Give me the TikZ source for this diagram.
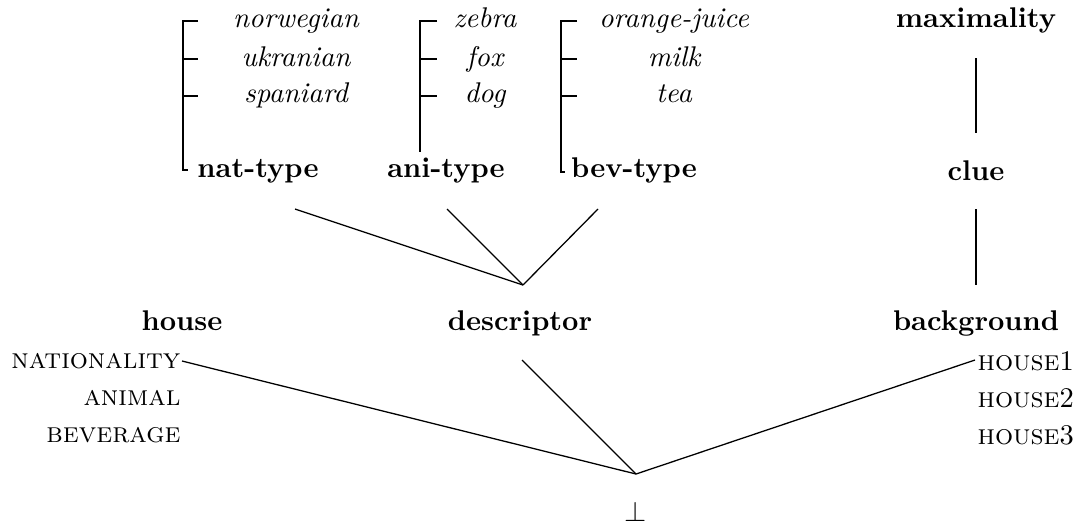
\documentclass[tikz,border=0pt]{standalone}
\begin{document}
\begin{tikzpicture}[x=0.3509pt,y=-0.3509pt,
  lbl/.style={inner sep=0pt,anchor=base},
  itm/.style={lbl,font=\itshape},
  typ/.style={lbl,font=\bfseries},
  brk/.style={line width=0.7pt},
  con/.style={line width=0.45pt},
  vcon/.style={line width=0.75pt}]
\useasboundingbox (0,0) rectangle (1078,527);
% type hierarchy items
\node[itm] (norw) at (296,27) {norwegian};
\node[itm] (ukr) at (296,66) {ukranian};
\node[itm] (spa) at (296,102) {spaniard};
\node[typ] (nat) at (258,177) {nat-type};
\node[itm] (zeb) at (485,27) {zebra};
\node[itm] (fox) at (485,66) {fox};
\node[itm] (dog) at (485,102) {dog};
\node[typ] (ani) at (446,177) {ani-type};
\node[itm] (oj) at (674,27) {orange-juice};
\node[itm] (milk) at (674,66) {milk};
\node[itm] (tea) at (674,102) {tea};
\node[typ] (bev) at (634,177) {bev-type};
% brackets
\draw[brk] (198,21) -- (183,21) -- (183,170) -- (188,170);
\draw[brk] (183,59) -- (198,59);
\draw[brk] (183,96) -- (198,96);
\draw[brk] (437,21) -- (420,21) -- (420,152);
\draw[brk] (420,59) -- (437,59);
\draw[brk] (420,96) -- (437,96);
\draw[brk] (577,21) -- (561,21) -- (561,172) -- (565,172);
\draw[brk] (561,59) -- (577,59);
\draw[brk] (561,96) -- (577,96);
% right column
\node[typ] (max) at (976,27) {maximality};
\node[typ] (clue) at (976,180) {clue};
\node[typ] (bg) at (976,330) {background};
\coordinate (maxb) at (976,58);
\coordinate (cluet) at (976,133);
\coordinate (clueb) at (976,209);
\coordinate (bgt) at (976,285);
\draw[vcon] (maxb) -- (cluet);
\draw[vcon] (clueb) -- (bgt);
% middle
\node[typ] (desc) at (520,330) {descriptor};
\node[typ] (house) at (182,330) {house};
\node[lbl,anchor=base east] (nat-f) at (181,368) {\textsc{nationality}};
\node[lbl,anchor=base east] (ani-f) at (181,405) {\textsc{animal}};
\node[lbl,anchor=base east] (bev-f) at (181,442) {\textsc{beverage}};
\node[lbl,anchor=base west] (h1) at (977,370) {\textsc{house}1};
\node[lbl,anchor=base west] (h2) at (977,407) {\textsc{house}2};
\node[lbl,anchor=base west] (h3) at (977,444) {\textsc{house}3};
\node[lbl] (bot) at (636,521) {$\perp$};
% connectors
\coordinate (dj) at (523,285);
\coordinate (natb) at (295,209);
\coordinate (anib) at (447,209);
\coordinate (bevb) at (598,209);
\draw[con] (natb) -- (dj);
\draw[con] (anib) -- (dj);
\draw[con] (bevb) -- (dj);
\coordinate (bj) at (636,474);
\coordinate (nats) at (182,361);
\coordinate (descb) at (522,360);
\coordinate (h1s) at (975,360);
\draw[con] (nats) -- (bj);
\draw[con] (descb) -- (bj);
\draw[con] (h1s) -- (bj);
\end{tikzpicture}
\end{document}
